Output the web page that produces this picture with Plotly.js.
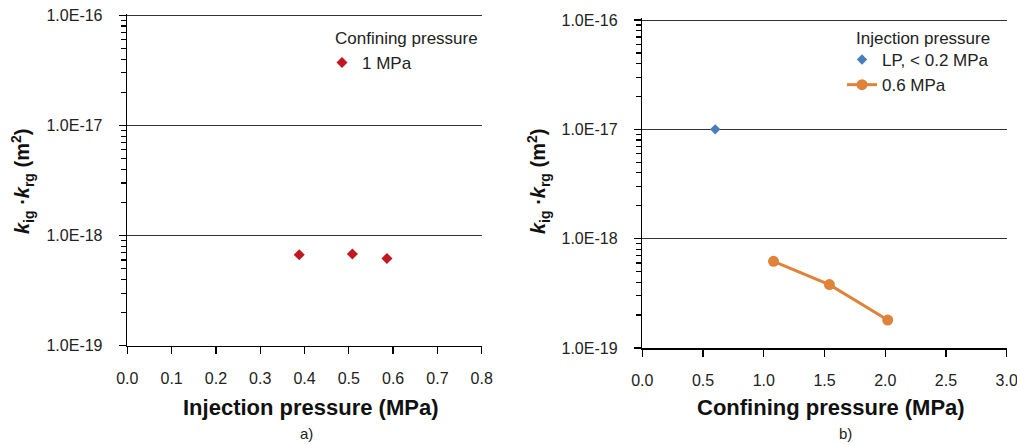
<!DOCTYPE html>
<html><head><meta charset="utf-8">
<script src="https://cdn.plot.ly/plotly-3.0.1.min.js"></script>
<style>html,body{margin:0;padding:0;background:#fff}</style>
</head><body>
<div id="chart" style="width:1017px;height:445px"></div>
<script>
// Panel a) : confining pressure 1 MPa
const injPressureA = [0.388, 0.508, 0.586];
const permA = [6.7e-19, 6.8e-19, 6.2e-19];
// Panel b) : injection pressure series
const confLP = [0.6];
const permLP = [1.0e-17];
const conf06 = [1.08, 1.54, 2.02];
const perm06 = [6.2e-19, 3.8e-19, 1.8e-19];
// Tick labels
const yTickVals = [1e-19, 1e-18, 1e-17, 1e-16];
const yTickText = ["1.0E-19", "1.0E-18", "1.0E-17", "1.0E-16"];
const yMinorMantissas = [2, 3, 4, 5, 6, 7, 8, 9];
const yDecades = [1e-19, 1e-18, 1e-17];
const yMinorVals = [];
for (const d of yDecades) for (const m of yMinorMantissas) yMinorVals.push(m * d);
const xTickValsA = [0, 0.1, 0.2, 0.3, 0.4, 0.5, 0.6, 0.7, 0.8];
const xTickTextA = ["0.0","0.1","0.2","0.3","0.4","0.5","0.6","0.7","0.8"];
const xTickValsB = [0, 0.5, 1, 1.5, 2, 2.5, 3];
const xTickTextB = ["0.0","0.5","1.0","1.5","2.0","2.5","3.0"];

const FONT = "Liberation Sans, Arial, sans-serif";
const traces = [
  {x: injPressureA, y: permA, type: "scatter", mode: "markers", name: "1 MPa",
   xaxis: "x", yaxis: "y", legend: "legend",
   marker: {symbol: "diamond", size: 8.5, color: "#C0191F"}},
  {x: confLP, y: permLP, type: "scatter", mode: "markers", name: "LP, < 0.2 MPa",
   xaxis: "x2", yaxis: "y2", legend: "legend2",
   marker: {symbol: "diamond", size: 8, color: "#4A7EBB"}},
  {x: conf06, y: perm06, type: "scatter", mode: "lines+markers", name: "0.6 MPa",
   xaxis: "x2", yaxis: "y2", legend: "legend2",
   line: {color: "#E0833A", width: 3},
   marker: {symbol: "circle", size: 11, color: "#E0833A"}}
];

const Y_RANGE = [-19, -15.986];
function yAxis(domain, anchor) {
  return {
    type: "log", domain: domain, anchor: anchor,
    range: Y_RANGE,
    tickmode: "array", tickvals: yTickVals, ticktext: yTickText,
    ticks: "outside", ticklen: 7, tickwidth: 1.3, tickcolor: "#000",
    ticklabelstandoff: 13,
    showline: true, linecolor: "#000", linewidth: 1.6,
    showgrid: true, gridcolor: "#333", gridwidth: 1,
    zeroline: false,
    minor: {tickmode: "array", tickvals: yMinorVals, ticks: "outside", ticklen: 5, tickwidth: 1.2, tickcolor: "#000", showgrid: false},
    tickfont: {family: FONT, size: 16, color: "#222"},
    fixedrange: true
  };
}
function xAxis(domain, anchor, range, tv, tt) {
  return {
    domain: domain, anchor: anchor, range: range,
    tickmode: "array", tickvals: tv, ticktext: tt,
    ticks: "outside", ticklen: 7, tickwidth: 1.3, tickcolor: "#000",
    ticklabelstandoff: 10, ticklabeloverflow: "allow",
    showline: true, linecolor: "#000", linewidth: 1.6,
    showgrid: false, zeroline: false,
    tickfont: {family: FONT, size: 16, color: "#222"},
    fixedrange: true
  };
}

const yTitle = "<b><i>k</i><sub>ig</sub> ·<i>k</i><sub>rg</sub> (m<sup>2</sup>)</b>";
const legendFont = {family: FONT, size: 17, color: "#222"};
const layout = {
  width: 1017, height: 445,
  margin: {l: 0, r: 0, t: 0, b: 0},
  paper_bgcolor: "#fff", plot_bgcolor: "#fff",
  font: {family: FONT, color: "#222"},
  xaxis: xAxis([0.1252, 0.4737], "y", [0, 0.8], xTickValsA, xTickTextA),
  yaxis: yAxis([0.2231, 0.96908], "x"),
  xaxis2: xAxis([0.6316, 0.9899], "y2", [0, 3], xTickValsB, xTickTextB),
  yaxis2: yAxis([0.2180, 0.95849], "x2"),
  showlegend: true,
  legend: {
    x: 322/1017, y: 1 - 45/445, xanchor: "left", yanchor: "top",
    font: legendFont, bgcolor: "rgba(0,0,0,0)", itemwidth: 30, tracegroupgap: 0
  },
  legend2: {
    x: 842/1017, y: 1 - 42/445, xanchor: "left", yanchor: "top",
    font: legendFont, bgcolor: "rgba(0,0,0,0)", itemwidth: 30, tracegroupgap: 0
  },
  annotations: [
    {text: "Confining pressure", xref: "paper", yref: "paper", x: 333/1017, y: 1 - 38/445,
     xanchor: "left", yanchor: "middle", showarrow: false, font: legendFont},
    {text: "Injection pressure", xref: "paper", yref: "paper", x: 854/1017, y: 1 - 38/445,
     xanchor: "left", yanchor: "middle", showarrow: false, font: legendFont},
    {text: "<b>Injection pressure (MPa)</b>", xref: "paper", yref: "paper", x: 311/1017, y: 1 - 407/445,
     xanchor: "center", yanchor: "middle", showarrow: false, font: {family: FONT, size: 22, color: "#111"}},
    {text: "a)", xref: "paper", yref: "paper", x: 306/1017, y: 1 - 433/445,
     xanchor: "center", yanchor: "middle", showarrow: false, font: {family: FONT, size: 15, color: "#222"}},
    {text: "<b>Confining pressure (MPa)</b>", xref: "paper", yref: "paper", x: 831/1017, y: 1 - 407/445,
     xanchor: "center", yanchor: "middle", showarrow: false, font: {family: FONT, size: 22, color: "#111"}},
    {text: "b)", xref: "paper", yref: "paper", x: 845/1017, y: 1 - 433/445,
     xanchor: "center", yanchor: "middle", showarrow: false, font: {family: FONT, size: 15, color: "#222"}},
    {text: yTitle, xref: "paper", yref: "paper", x: 22/1017, y: 1 - 182/445, textangle: -90,
     xanchor: "center", yanchor: "middle", showarrow: false, font: {family: FONT, size: 20, color: "#111"}},
    {text: yTitle, xref: "paper", yref: "paper", x: 538/1017, y: 1 - 182/445, textangle: -90,
     xanchor: "center", yanchor: "middle", showarrow: false, font: {family: FONT, size: 20, color: "#111"}}
  ]
};
Plotly.newPlot("chart", traces, layout, {displayModeBar: false, staticPlot: true});
</script>
</body></html>
